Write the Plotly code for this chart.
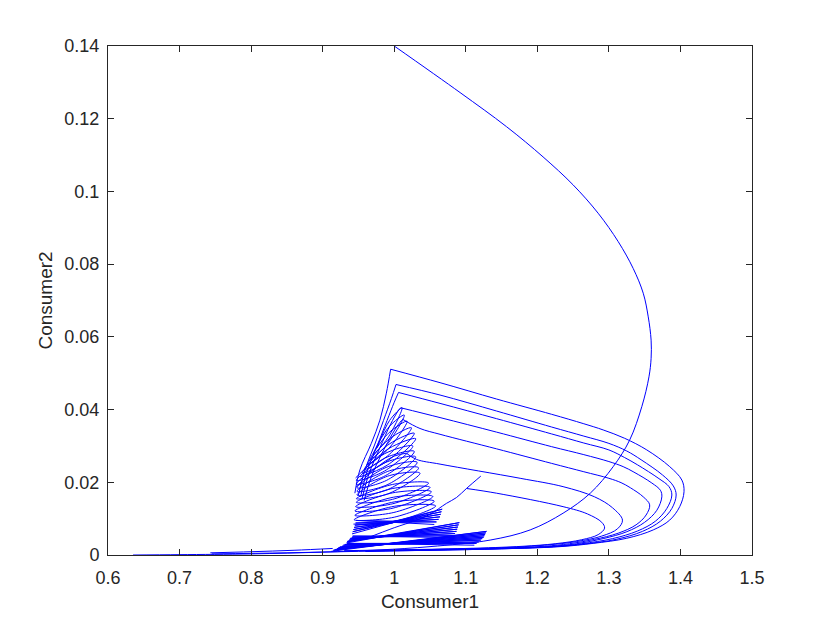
import plotly.graph_objects as go

# tick labels
x_ticks = [0.6, 0.7, 0.8, 0.9, 1.0, 1.1, 1.2, 1.3, 1.4, 1.5]
x_tick_text = ["0.6", "0.7", "0.8", "0.9", "1", "1.1", "1.2", "1.3", "1.4", "1.5"]
y_ticks = [0, 0.02, 0.04, 0.06, 0.08, 0.1, 0.12, 0.14]
y_tick_text = ["0", "0.02", "0.04", "0.06", "0.08", "0.1", "0.12", "0.14"]

# big first swing from the initial state
main_x = [1.000, 1.092, 1.157, 1.208, 1.250, 1.285, 1.313, 1.334, 1.348, 1.355, 1.359, 1.359,
          1.356, 1.346, 1.329, 1.306, 1.274, 1.236, 1.190, 1.134, 1.050, 0.980, 0.900, 0.800,
          0.700, 0.635]
main_y = [0.1400, 0.1272, 0.1178, 0.1095, 0.1018, 0.0940, 0.0862, 0.0788, 0.0720, 0.0655, 0.0591, 0.0541,
          0.0490, 0.0408, 0.0316, 0.0243, 0.0170, 0.0115, 0.0069, 0.0041, 0.0023, 0.0014, 0.0008, 0.0003,
          0.0001, 0.0000]

# relaxation loops (rise on the left, corner, long return through the right)
loop1_x = [0.945, 0.952, 0.968, 0.980, 0.989, 0.995, 1.064, 1.143, 1.220, 1.265, 1.292, 1.322, 1.353, 1.385,
           1.402, 1.405, 1.399, 1.385, 1.362, 1.325, 1.278, 1.232, 1.150, 1.050, 0.950, 0.850, 0.745]
loop1_y = [0.0170, 0.0234, 0.0307, 0.0371, 0.0445, 0.0511, 0.0474, 0.0429, 0.0387, 0.0361, 0.0344, 0.0321, 0.0289, 0.0243,
           0.0206, 0.0174, 0.0133, 0.0096, 0.0069, 0.0046, 0.0032, 0.0023, 0.0017, 0.0013, 0.0010, 0.0006, 0.0003]

loop2_x = [0.950, 0.959, 0.972, 0.985, 0.996, 1.0025, 1.064, 1.143, 1.220, 1.265, 1.300, 1.325, 1.345, 1.375,
           1.390, 1.394, 1.388, 1.372, 1.347, 1.310, 1.265, 1.225, 1.150, 1.050, 0.960]
loop2_y = [0.0165, 0.0234, 0.0300, 0.0370, 0.0430, 0.0469, 0.0440, 0.0396, 0.0352, 0.0327, 0.0307, 0.0286, 0.0262, 0.0220,
           0.0190, 0.0165, 0.0128, 0.0093, 0.0065, 0.0043, 0.0030, 0.0023, 0.0017, 0.0013, 0.0010]

loop3_x = [0.953, 0.962, 0.976, 0.990, 1.000, 1.006, 1.064, 1.143, 1.220, 1.265, 1.300, 1.322, 1.340, 1.370,
           1.384, 1.388, 1.381, 1.365, 1.340, 1.305, 1.262, 1.222, 1.150, 1.050, 0.960]
loop3_y = [0.0160, 0.0230, 0.0300, 0.0370, 0.0420, 0.0447, 0.0417, 0.0375, 0.0333, 0.0308, 0.0289, 0.0268, 0.0248, 0.0210,
           0.0188, 0.0165, 0.0128, 0.0093, 0.0066, 0.0045, 0.0031, 0.0023, 0.0018, 0.0014, 0.0011]

loop4_x = [0.955, 0.965, 0.980, 0.995, 1.005, 1.009, 1.064, 1.143, 1.220, 1.265, 1.300, 1.320, 1.335, 1.360,
           1.372, 1.374, 1.367, 1.350, 1.325, 1.292, 1.255, 1.215, 1.150, 1.050, 0.960]
loop4_y = [0.0155, 0.0225, 0.0295, 0.0360, 0.0395, 0.0405, 0.0378, 0.0338, 0.0298, 0.0276, 0.0257, 0.0243, 0.0228, 0.0198,
           0.0178, 0.0160, 0.0123, 0.0090, 0.0064, 0.0045, 0.0031, 0.0023, 0.0018, 0.0014, 0.0011]

loop5_x = [0.958, 0.968, 0.983, 0.998, 1.008, 1.012, 1.036, 1.064, 1.143, 1.220, 1.265, 1.300, 1.317, 1.330,
           1.348, 1.357, 1.352, 1.338, 1.313, 1.280, 1.245, 1.210, 1.150, 1.050, 0.960]
loop5_y = [0.0150, 0.0215, 0.0280, 0.0335, 0.0365, 0.0373, 0.0348, 0.0332, 0.0292, 0.0252, 0.0229, 0.0211, 0.0199, 0.0185,
           0.0160, 0.0138, 0.0110, 0.0083, 0.0060, 0.0043, 0.0031, 0.0024, 0.0019, 0.0015, 0.0012]

loop6_x = [0.947, 0.975, 1.000, 1.017, 1.031, 1.064, 1.176, 1.236, 1.280, 1.305, 1.319, 1.312, 1.290,
           1.255, 1.210, 1.150, 1.050, 0.960]
loop6_y = [0.0187, 0.0240, 0.0272, 0.0280, 0.0263, 0.0250, 0.0211, 0.0188, 0.0160, 0.0130, 0.0096, 0.0072, 0.0052,
           0.0037, 0.0027, 0.0020, 0.0015, 0.0012]

loop7_x = [1.101, 1.143, 1.236, 1.270, 1.290, 1.294, 1.285, 1.262, 1.225, 1.180, 1.100, 1.000, 0.930]
loop7_y = [0.0183, 0.0170, 0.0133, 0.0113, 0.0090, 0.0074, 0.0056, 0.0042, 0.0031, 0.0024, 0.0018, 0.0014, 0.0012]

# last piece of the run
tail_x = [0.960, 1.000, 1.030, 1.050, 1.073, 1.087, 1.101, 1.121]
tail_y = [0.0045, 0.0075, 0.0095, 0.0112, 0.0142, 0.0158, 0.0183, 0.0217]

# low line under the bundles
low_x = [0.743, 0.800, 0.860, 0.914]
low_y = [0.0006, 0.0009, 0.0013, 0.0018]

# fast oscillation wedges near the floor: left tips and right tips of each swing
bundle_a_left_x = [0.912, 0.915, 0.917, 0.920, 0.922, 0.924, 0.927, 0.929, 0.931, 0.934]
bundle_a_left_y = [0.0010, 0.0013, 0.0015, 0.0017, 0.0020, 0.0022, 0.0024, 0.0027, 0.0029, 0.0032]
bundle_a_right_x = [1.129, 1.128, 1.127, 1.126, 1.125, 1.123, 1.121, 1.118, 1.115, 1.112]
bundle_a_right_y = [0.0065, 0.0061, 0.0057, 0.0053, 0.0049, 0.0045, 0.0041, 0.0036, 0.0032, 0.0027]

bundle_b_left_x = [0.933, 0.934, 0.935, 0.937, 0.938, 0.939, 0.941, 0.942]
bundle_b_left_y = [0.0033, 0.0036, 0.0038, 0.0041, 0.0044, 0.0046, 0.0049, 0.0052]
bundle_b_right_x = [1.091, 1.090, 1.089, 1.088, 1.087, 1.085, 1.083, 1.080]
bundle_b_right_y = [0.0089, 0.0083, 0.0077, 0.0071, 0.0065, 0.0059, 0.0053, 0.0048]

bundle_c_left_x = [0.941, 0.942, 0.943, 0.944, 0.945, 0.946, 0.947]
bundle_c_left_y = [0.0058, 0.0064, 0.0070, 0.0076, 0.0082, 0.0088, 0.0095]
bundle_c_right_x = [1.067, 1.066, 1.065, 1.064, 1.062, 1.059, 1.056]
bundle_c_right_y = [0.0126, 0.0119, 0.0112, 0.0105, 0.0098, 0.0091, 0.0084]

# narrow leaf-shaped oscillations higher up (left tip, lower edge, right tip, upper edge, ...)
leaves_d_x = [0.943, 1.0005, 1.058, 1.000,
              0.944, 1.000, 1.056, 1.000,
              0.945, 0.9995, 1.054, 0.999,
              0.945, 0.9985, 1.052, 0.998,
              0.946, 0.998, 1.050, 0.998,
              0.947, 0.9975, 1.048, 0.9975,
              0.947, 0.991, 1.036, 0.991,
              0.948, 0.991, 1.034, 0.991,
              0.948, 0.990, 1.032, 0.990,
              0.948, 0.989, 1.030, 0.9885,
              0.947, 0.9875, 1.028, 0.9875,
              0.947, 0.9865, 1.026, 0.986,
              0.946]
leaves_d_y = [0.0085, 0.0092, 0.0135, 0.0134,
              0.0097, 0.0104, 0.0148, 0.0146,
              0.0109, 0.0117, 0.0161, 0.0159,
              0.0121, 0.0129, 0.0174, 0.0171,
              0.0133, 0.0141, 0.0186, 0.0183,
              0.0145, 0.0153, 0.0198, 0.0194,
              0.0155, 0.0168, 0.0225, 0.0217,
              0.0165, 0.0180, 0.0240, 0.0230,
              0.0175, 0.0193, 0.0255, 0.0242,
              0.0185, 0.0205, 0.0270, 0.0255,
              0.0195, 0.0218, 0.0285, 0.0267,
              0.0205, 0.0231, 0.0300, 0.0278,
              0.0212]

leaves_e_x = [0.952, 0.991, 1.030, 0.9925,
              0.955, 0.9915, 1.028, 0.993,
              0.958, 0.991, 1.024, 0.993,
              0.962, 0.990, 1.018, 0.992,
              0.966, 0.990, 1.014, 0.9925,
              0.971, 0.991, 1.011, 0.9935,
              0.976]
leaves_e_y = [0.0215, 0.0248, 0.0320, 0.0293,
              0.0225, 0.0260, 0.0335, 0.0305,
              0.0235, 0.0273, 0.0350, 0.0319,
              0.0248, 0.0288, 0.0368, 0.0335,
              0.0262, 0.0304, 0.0385, 0.0352,
              0.0278, 0.0322, 0.0405, 0.0370,
              0.0295]

LINE = dict(color="#0000ff", width=1)
FONT = "Liberation Sans, Arial, sans-serif"

fig = go.Figure()


def add_curve(xs, ys, shape="spline", smoothing=1.0):
    fig.add_trace(go.Scatter(x=xs, y=ys, mode="lines", line=dict(LINE, shape=shape, smoothing=smoothing),
                             hoverinfo="skip", showlegend=False))


def add_loop(xs, ys):
    # split at the sharp corner (highest point) so the spline does not round it off
    k = ys.index(max(ys))
    if k > 0:
        add_curve(xs[:k + 1], ys[:k + 1])
    add_curve(xs[k:], ys[k:])


def add_bundle(lx, ly, rx, ry):
    # swing back and forth: left tip, right tip, left tip, ...
    xs, ys = [], []
    for a, b, c, d in zip(lx, ly, rx, ry):
        xs += [a, c]
        ys += [b, d]
    add_curve(xs, ys, shape="linear")


add_curve(main_x, main_y)
for lx, ly in [(loop1_x, loop1_y), (loop2_x, loop2_y), (loop3_x, loop3_y), (loop4_x, loop4_y),
               (loop5_x, loop5_y), (loop6_x, loop6_y), (loop7_x, loop7_y)]:
    add_loop(lx, ly)
add_curve(tail_x, tail_y)
add_curve(low_x, low_y)
add_bundle(bundle_a_left_x, bundle_a_left_y, bundle_a_right_x, bundle_a_right_y)
add_bundle(bundle_b_left_x, bundle_b_left_y, bundle_b_right_x, bundle_b_right_y)
add_bundle(bundle_c_left_x, bundle_c_left_y, bundle_c_right_x, bundle_c_right_y)
add_curve(leaves_d_x, leaves_d_y)
add_curve(leaves_e_x, leaves_e_y)

axis_common = dict(
    showline=True, linecolor="#262626", linewidth=1, mirror="ticks",
    ticks="inside", ticklen=6, tickcolor="#262626", showgrid=False, zeroline=False,
    tickfont=dict(family=FONT, size=18, color="#262626"),
)

fig.update_xaxes(axis_common, range=[0.6, 1.5], tickvals=x_ticks, ticktext=x_tick_text,
                 ticklabelstandoff=6,
                 title=dict(text="Consumer1", standoff=8, font=dict(family=FONT, size=19, color="#262626")))
fig.update_yaxes(axis_common, range=[0, 0.14], tickvals=y_ticks, ticktext=y_tick_text,
                 ticklabelstandoff=4,
                 title=dict(text="Consumer2", standoff=6, font=dict(family=FONT, size=19, color="#262626")))

# the page body adds 8px around the figure
fig.update_layout(
    width=822, height=615,
    margin=dict(l=100, r=78, t=38, b=68),
    plot_bgcolor="white", paper_bgcolor="white",
    showlegend=False,
)

fig.write_html("out.html")
